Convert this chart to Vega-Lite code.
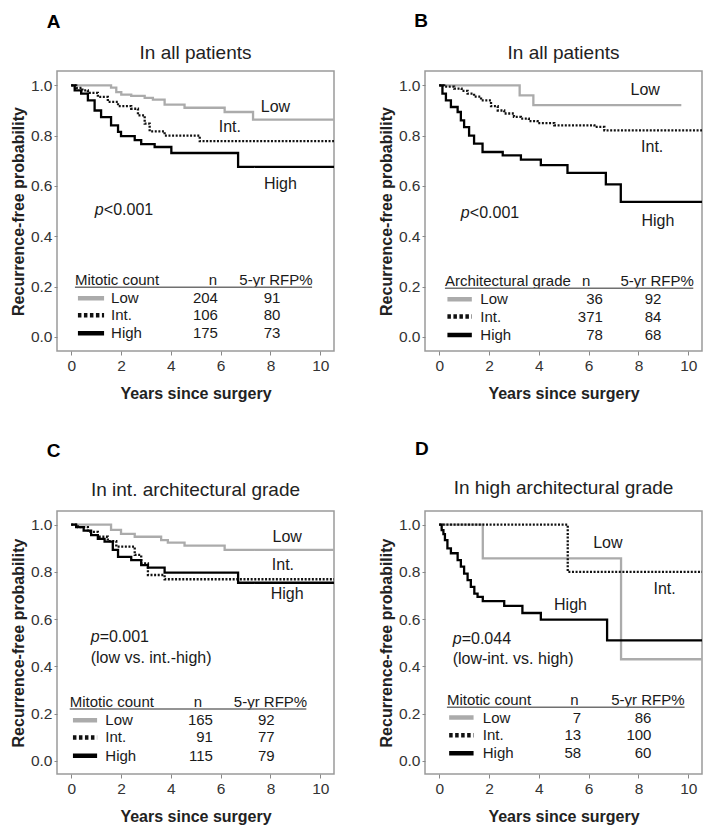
{
  "$schema": "https://vega.github.io/schema/vega-lite/v6.json",
  "background": "white",
  "padding": {"left": 9, "top": 10, "right": 5, "bottom": 5},
  "config": {
    "font": "Liberation Sans",
    "view": {"stroke": "#9a9a9a", "strokeWidth": 1.5},
    "axis": {"domain": false, "grid": false, "tickColor": "#888888", "labelFontSize": 15.5, "labelColor": "#333333", "titleFontSize": 16, "titleFontWeight": "bold", "titleColor": "#222222"},
    "axisX": {"tickSize": 4, "labelPadding": 3, "titlePadding": 12},
    "axisY": {"tickSize": 3, "labelPadding": 2, "titlePadding": 4},
    "text": {"fontSize": 15, "color": "#1a1a1a"}
  },
  "datasets": {
    "km": [
      {"panel":"A","group":"Low","t":0,"s":1},{"panel":"A","group":"Low","t":1.6,"s":0.991},{"panel":"A","group":"Low","t":1.81,"s":0.973},{"panel":"A","group":"Low","t":2.01,"s":0.963},{"panel":"A","group":"Low","t":2.41,"s":0.958},{"panel":"A","group":"Low","t":2.95,"s":0.95},{"panel":"A","group":"Low","t":3.28,"s":0.943},{"panel":"A","group":"Low","t":3.75,"s":0.923},{"panel":"A","group":"Low","t":4.55,"s":0.911},{"panel":"A","group":"Low","t":6.16,"s":0.894},{"panel":"A","group":"Low","t":7.3,"s":0.864},{"panel":"A","group":"Low","t":10.55,"s":0.864},
      {"panel":"A","group":"Int.","t":0,"s":1},{"panel":"A","group":"Int.","t":0.2,"s":0.99},{"panel":"A","group":"Int.","t":0.45,"s":0.98},{"panel":"A","group":"Int.","t":0.67,"s":0.97},{"panel":"A","group":"Int.","t":1.07,"s":0.954},{"panel":"A","group":"Int.","t":1.47,"s":0.934},{"panel":"A","group":"Int.","t":1.88,"s":0.917},{"panel":"A","group":"Int.","t":2.41,"s":0.907},{"panel":"A","group":"Int.","t":2.68,"s":0.881},{"panel":"A","group":"Int.","t":2.95,"s":0.848},{"panel":"A","group":"Int.","t":3.15,"s":0.817},{"panel":"A","group":"Int.","t":3.75,"s":0.8},{"panel":"A","group":"Int.","t":5.16,"s":0.778},{"panel":"A","group":"Int.","t":10.55,"s":0.778},
      {"panel":"A","group":"High","t":0,"s":1},{"panel":"A","group":"High","t":0.14,"s":0.98},{"panel":"A","group":"High","t":0.4,"s":0.967},{"panel":"A","group":"High","t":0.67,"s":0.94},{"panel":"A","group":"High","t":0.94,"s":0.9},{"panel":"A","group":"High","t":1.2,"s":0.874},{"panel":"A","group":"High","t":1.6,"s":0.841},{"panel":"A","group":"High","t":1.88,"s":0.815},{"panel":"A","group":"High","t":2.0,"s":0.798},{"panel":"A","group":"High","t":2.55,"s":0.782},{"panel":"A","group":"High","t":2.81,"s":0.766},{"panel":"A","group":"High","t":3.35,"s":0.755},{"panel":"A","group":"High","t":4.02,"s":0.731},{"panel":"A","group":"High","t":6.7,"s":0.676},{"panel":"A","group":"High","t":10.55,"s":0.676},
      {"panel":"B","group":"Low","t":0,"s":1},{"panel":"B","group":"Low","t":3.23,"s":0.96},{"panel":"B","group":"Low","t":3.78,"s":0.921},{"panel":"B","group":"Low","t":9.72,"s":0.921},
      {"panel":"B","group":"Int.","t":0,"s":1},{"panel":"B","group":"Int.","t":0.2,"s":0.995},{"panel":"B","group":"Int.","t":0.6,"s":0.987},{"panel":"B","group":"Int.","t":0.9,"s":0.978},{"panel":"B","group":"Int.","t":1.14,"s":0.967},{"panel":"B","group":"Int.","t":1.4,"s":0.955},{"panel":"B","group":"Int.","t":1.68,"s":0.94},{"panel":"B","group":"Int.","t":2.08,"s":0.917},{"panel":"B","group":"Int.","t":2.35,"s":0.9},{"panel":"B","group":"Int.","t":2.61,"s":0.888},{"panel":"B","group":"Int.","t":3.0,"s":0.875},{"panel":"B","group":"Int.","t":3.28,"s":0.868},{"panel":"B","group":"Int.","t":3.6,"s":0.858},{"panel":"B","group":"Int.","t":3.95,"s":0.85},{"panel":"B","group":"Int.","t":4.62,"s":0.841},{"panel":"B","group":"Int.","t":6.23,"s":0.835},{"panel":"B","group":"Int.","t":6.63,"s":0.821},{"panel":"B","group":"Int.","t":10.55,"s":0.821},
      {"panel":"B","group":"High","t":0,"s":1},{"panel":"B","group":"High","t":0.13,"s":0.967},{"panel":"B","group":"High","t":0.27,"s":0.94},{"panel":"B","group":"High","t":0.47,"s":0.914},{"panel":"B","group":"High","t":0.74,"s":0.894},{"panel":"B","group":"High","t":0.87,"s":0.861},{"panel":"B","group":"High","t":1.0,"s":0.834},{"panel":"B","group":"High","t":1.2,"s":0.8},{"panel":"B","group":"High","t":1.4,"s":0.768},{"panel":"B","group":"High","t":1.74,"s":0.735},{"panel":"B","group":"High","t":2.55,"s":0.722},{"panel":"B","group":"High","t":3.28,"s":0.705},{"panel":"B","group":"High","t":4.08,"s":0.683},{"panel":"B","group":"High","t":5.15,"s":0.652},{"panel":"B","group":"High","t":6.69,"s":0.606},{"panel":"B","group":"High","t":7.29,"s":0.537},{"panel":"B","group":"High","t":10.55,"s":0.537},
      {"panel":"C","group":"Low","t":0,"s":1},{"panel":"C","group":"Low","t":1.6,"s":0.978},{"panel":"C","group":"Low","t":2.0,"s":0.961},{"panel":"C","group":"Low","t":2.55,"s":0.949},{"panel":"C","group":"Low","t":3.61,"s":0.935},{"panel":"C","group":"Low","t":3.88,"s":0.924},{"panel":"C","group":"Low","t":4.55,"s":0.911},{"panel":"C","group":"Low","t":6.16,"s":0.893},{"panel":"C","group":"Low","t":10.55,"s":0.893},
      {"panel":"C","group":"Int.","t":0,"s":1},{"panel":"C","group":"Int.","t":0.27,"s":0.99},{"panel":"C","group":"Int.","t":0.67,"s":0.97},{"panel":"C","group":"Int.","t":1.07,"s":0.949},{"panel":"C","group":"Int.","t":1.47,"s":0.93},{"panel":"C","group":"Int.","t":1.81,"s":0.907},{"panel":"C","group":"Int.","t":2.55,"s":0.872},{"panel":"C","group":"Int.","t":2.81,"s":0.836},{"panel":"C","group":"Int.","t":3.08,"s":0.787},{"panel":"C","group":"Int.","t":3.75,"s":0.769},{"panel":"C","group":"Int.","t":10.55,"s":0.769},
      {"panel":"C","group":"High","t":0,"s":1},{"panel":"C","group":"High","t":0.2,"s":0.99},{"panel":"C","group":"High","t":0.5,"s":0.975},{"panel":"C","group":"High","t":0.8,"s":0.956},{"panel":"C","group":"High","t":1.07,"s":0.94},{"panel":"C","group":"High","t":1.34,"s":0.928},{"panel":"C","group":"High","t":1.67,"s":0.893},{"panel":"C","group":"High","t":1.88,"s":0.864},{"panel":"C","group":"High","t":2.41,"s":0.85},{"panel":"C","group":"High","t":2.81,"s":0.829},{"panel":"C","group":"High","t":3.08,"s":0.818},{"panel":"C","group":"High","t":3.75,"s":0.797},{"panel":"C","group":"High","t":6.7,"s":0.754},{"panel":"C","group":"High","t":10.55,"s":0.754},
      {"panel":"D","group":"Low","t":0,"s":1},{"panel":"D","group":"Low","t":1.75,"s":0.857},{"panel":"D","group":"Low","t":7.3,"s":0.43},{"panel":"D","group":"Low","t":10.55,"s":0.43},
      {"panel":"D","group":"Int.","t":0,"s":1},{"panel":"D","group":"Int.","t":5.16,"s":0.8},{"panel":"D","group":"Int.","t":10.55,"s":0.8},
      {"panel":"D","group":"High","t":0,"s":1},{"panel":"D","group":"High","t":0.1,"s":0.977},{"panel":"D","group":"High","t":0.17,"s":0.96},{"panel":"D","group":"High","t":0.23,"s":0.935},{"panel":"D","group":"High","t":0.33,"s":0.9},{"panel":"D","group":"High","t":0.47,"s":0.879},{"panel":"D","group":"High","t":0.74,"s":0.85},{"panel":"D","group":"High","t":0.87,"s":0.822},{"panel":"D","group":"High","t":1.0,"s":0.793},{"panel":"D","group":"High","t":1.14,"s":0.765},{"panel":"D","group":"High","t":1.27,"s":0.737},{"panel":"D","group":"High","t":1.41,"s":0.708},{"panel":"D","group":"High","t":1.54,"s":0.694},{"panel":"D","group":"High","t":1.75,"s":0.676},{"panel":"D","group":"High","t":2.61,"s":0.656},{"panel":"D","group":"High","t":3.34,"s":0.626},{"panel":"D","group":"High","t":4.08,"s":0.598},{"panel":"D","group":"High","t":6.74,"s":0.51},{"panel":"D","group":"High","t":10.55,"s":0.51}
    ],
    "labels": [
      {"panel":"A","group":"Low","t":8.2,"s":0.913},{"panel":"A","group":"Int.","t":6.37,"s":0.833},{"panel":"A","group":"High","t":8.4,"s":0.607},
      {"panel":"B","group":"Low","t":8.27,"s":0.983},{"panel":"B","group":"Int.","t":8.55,"s":0.755},{"panel":"B","group":"High","t":8.78,"s":0.461},
      {"panel":"C","group":"Low","t":8.67,"s":0.947},{"panel":"C","group":"Int.","t":8.5,"s":0.829},{"panel":"C","group":"High","t":8.67,"s":0.706},
      {"panel":"D","group":"Low","t":6.77,"s":0.924},{"panel":"D","group":"Int.","t":9.05,"s":0.727},{"panel":"D","group":"High","t":5.27,"s":0.661}
    ],
    "ptext": [
      {"panel":"A","line":1,"t":0.95,"s":0.504,"text":"<0.001"},
      {"panel":"B","line":1,"t":0.87,"s":0.493,"text":"<0.001"},
      {"panel":"C","line":1,"t":0.78,"s":0.526,"text":"=0.001"},
      {"panel":"C","line":2,"t":0.78,"s":0.437,"text":"(low vs. int.-high)"},
      {"panel":"D","line":1,"t":0.54,"s":0.515,"text":"=0.044"},
      {"panel":"D","line":2,"t":0.54,"s":0.43,"text":"(low-int. vs. high)"}
    ],
    "legend": [
      {"panel":"A","group":"Low","n":204,"rfp":91,"s":0.154},{"panel":"A","group":"Int.","n":106,"rfp":80,"s":0.086},{"panel":"A","group":"High","n":175,"rfp":73,"s":0.015},
      {"panel":"B","group":"Low","n":36,"rfp":92,"s":0.15},{"panel":"B","group":"Int.","n":371,"rfp":84,"s":0.081},{"panel":"B","group":"High","n":78,"rfp":68,"s":0.008},
      {"panel":"C","group":"Low","n":165,"rfp":92,"s":0.172},{"panel":"C","group":"Int.","n":91,"rfp":77,"s":0.099},{"panel":"C","group":"High","n":115,"rfp":79,"s":0.021},
      {"panel":"D","group":"Low","n":7,"rfp":86,"s":0.183},{"panel":"D","group":"Int.","n":13,"rfp":100,"s":0.108},{"panel":"D","group":"High","n":58,"rfp":60,"s":0.032}
    ]
  },
  "columns": 2,
  "bounds": "flush",
  "spacing": {"row": 160, "column": 91},
  "concat": [
    {
      "width": 277, "height": 280,
      "resolve": {"scale": {"strokeDash": "independent"}},
      "layer": [
        {"data": {"name": "km"}, "transform": [{"filter": "datum.panel === 'A'"}], "mark": {"type": "line", "interpolate": "step-after", "strokeWidth": 2.3}, "encoding": {
          "x": {"field": "t", "type": "quantitative", "scale": {"domain": [-0.57, 10.55], "nice": false, "zero": false}, "axis": {"title": "Years since surgery", "values": [0, 2, 4, 6, 8, 10]}},
          "y": {"field": "s", "type": "quantitative", "scale": {"domain": [-0.056, 1.057], "nice": false, "zero": false}, "axis": {"title": "Recurrence-free probability", "values": [0, 0.2, 0.4, 0.6, 0.8, 1], "format": ".1f"}},
          "color": {"field": "group", "type": "nominal", "scale": {"domain": ["Low", "Int.", "High"], "range": ["#ababab", "#111111", "#000000"]}, "legend": null}, "strokeDash": {"field": "group", "type": "nominal", "scale": {"domain": ["Low", "Int.", "High"], "range": [[1, 0], [2, 1.6], [1, 0]]}, "legend": null}}},
        {"data": {"name": "labels"}, "transform": [{"filter": "datum.panel === 'A'"}], "mark": {"type": "text", "fontSize": 16, "align": "center", "baseline": "middle"}, "encoding": {"x": {"field": "t", "type": "quantitative"}, "y": {"field": "s", "type": "quantitative"}, "text": {"field": "group", "type": "nominal"}}},
        {"data": {"values": [{}]}, "mark": {"type": "text", "text": "A", "fontSize": 19, "fontWeight": "bold", "align": "left", "baseline": "middle", "color": "#000000"}, "encoding": {"x": {"datum": -0.98, "type": "quantitative"}, "y": {"datum": 1.252, "type": "quantitative"}}},
        {"data": {"values": [{}]}, "mark": {"type": "text", "text": "In all patients", "fontSize": 19, "align": "center", "baseline": "middle", "color": "#222222"}, "encoding": {"x": {"datum": 4.99, "type": "quantitative"}, "y": {"datum": 1.127, "type": "quantitative"}}},
        {"data": {"name": "ptext"}, "transform": [{"filter": "datum.panel === 'A' && datum.line === 1"}], "mark": {"type": "text", "text": "p", "fontSize": 16, "fontStyle": "italic", "align": "left", "baseline": "middle"}, "encoding": {"x": {"field": "t", "type": "quantitative"}, "y": {"field": "s", "type": "quantitative"}}},
        {"data": {"name": "ptext"}, "transform": [{"filter": "datum.panel === 'A' && datum.line === 1"}], "mark": {"type": "text", "fontSize": 16, "align": "left", "baseline": "middle", "dx": 9}, "encoding": {"x": {"field": "t", "type": "quantitative"}, "y": {"field": "s", "type": "quantitative"}, "text": {"field": "text", "type": "nominal"}}},
        {"data": {"values": [{}]}, "mark": {"type": "text", "text": "Mitotic count", "align": "left", "baseline": "middle"}, "encoding": {"x": {"datum": 0.15, "type": "quantitative"}, "y": {"datum": 0.226, "type": "quantitative"}}},
        {"data": {"values": [{}]}, "mark": {"type": "text", "text": "n", "align": "center", "baseline": "middle"}, "encoding": {"x": {"datum": 5.69, "type": "quantitative"}, "y": {"datum": 0.226, "type": "quantitative"}}},
        {"data": {"values": [{}]}, "mark": {"type": "text", "text": "5-yr RFP%", "align": "center", "baseline": "middle"}, "encoding": {"x": {"datum": 8.22, "type": "quantitative"}, "y": {"datum": 0.226, "type": "quantitative"}}},
        {"data": {"values": [{}]}, "mark": {"type": "rule", "color": "#707070", "strokeWidth": 1.5}, "encoding": {"x": {"datum": 0.15, "type": "quantitative"}, "x2": {"datum": 9.67}, "y": {"datum": 0.197, "type": "quantitative"}}},
        {"data": {"name": "legend"}, "transform": [{"filter": "datum.panel === 'A'"}], "mark": {"type": "rule", "strokeWidth": 4.5}, "encoding": {"x": {"datum": 0.27, "type": "quantitative"}, "x2": {"datum": 1.32}, "y": {"field": "s", "type": "quantitative"}, "color": {"field": "group", "type": "nominal", "legend": null}, "strokeDash": {"field": "group", "type": "nominal", "scale": {"domain": ["Low", "Int.", "High"], "range": [[1, 0], [3.5, 2.5], [1, 0]]}, "legend": null}}},
        {"data": {"name": "legend"}, "transform": [{"filter": "datum.panel === 'A'"}], "mark": {"type": "text", "align": "left", "baseline": "middle"}, "encoding": {"x": {"datum": 1.6, "type": "quantitative"}, "y": {"field": "s", "type": "quantitative"}, "text": {"field": "group", "type": "nominal"}}},
        {"data": {"name": "legend"}, "transform": [{"filter": "datum.panel === 'A'"}], "mark": {"type": "text", "align": "right", "baseline": "middle"}, "encoding": {"x": {"datum": 5.89, "type": "quantitative"}, "y": {"field": "s", "type": "quantitative"}, "text": {"field": "n", "type": "quantitative", "format": "d"}}},
        {"data": {"name": "legend"}, "transform": [{"filter": "datum.panel === 'A'"}], "mark": {"type": "text", "align": "right", "baseline": "middle"}, "encoding": {"x": {"datum": 8.4, "type": "quantitative"}, "y": {"field": "s", "type": "quantitative"}, "text": {"field": "rfp", "type": "quantitative", "format": "d"}}}
      ]
    },
    {
      "width": 277, "height": 280,
      "resolve": {"scale": {"strokeDash": "independent"}},
      "layer": [
        {"data": {"name": "km"}, "transform": [{"filter": "datum.panel === 'B'"}], "mark": {"type": "line", "interpolate": "step-after", "strokeWidth": 2.3}, "encoding": {
          "x": {"field": "t", "type": "quantitative", "scale": {"domain": [-0.57, 10.55], "nice": false, "zero": false}, "axis": {"title": "Years since surgery", "values": [0, 2, 4, 6, 8, 10]}},
          "y": {"field": "s", "type": "quantitative", "scale": {"domain": [-0.056, 1.057], "nice": false, "zero": false}, "axis": {"title": "Recurrence-free probability", "values": [0, 0.2, 0.4, 0.6, 0.8, 1], "format": ".1f"}},
          "color": {"field": "group", "type": "nominal", "scale": {"domain": ["Low", "Int.", "High"], "range": ["#ababab", "#111111", "#000000"]}, "legend": null}, "strokeDash": {"field": "group", "type": "nominal", "scale": {"domain": ["Low", "Int.", "High"], "range": [[1, 0], [2, 1.6], [1, 0]]}, "legend": null}}},
        {"data": {"name": "labels"}, "transform": [{"filter": "datum.panel === 'B'"}], "mark": {"type": "text", "fontSize": 16, "align": "center", "baseline": "middle"}, "encoding": {"x": {"field": "t", "type": "quantitative"}, "y": {"field": "s", "type": "quantitative"}, "text": {"field": "group", "type": "nominal"}}},
        {"data": {"values": [{}]}, "mark": {"type": "text", "text": "B", "fontSize": 19, "fontWeight": "bold", "align": "left", "baseline": "middle", "color": "#000000"}, "encoding": {"x": {"datum": -1.0, "type": "quantitative"}, "y": {"datum": 1.257, "type": "quantitative"}}},
        {"data": {"values": [{}]}, "mark": {"type": "text", "text": "In all patients", "fontSize": 19, "align": "center", "baseline": "middle", "color": "#222222"}, "encoding": {"x": {"datum": 4.99, "type": "quantitative"}, "y": {"datum": 1.127, "type": "quantitative"}}},
        {"data": {"name": "ptext"}, "transform": [{"filter": "datum.panel === 'B' && datum.line === 1"}], "mark": {"type": "text", "text": "p", "fontSize": 16, "fontStyle": "italic", "align": "left", "baseline": "middle"}, "encoding": {"x": {"field": "t", "type": "quantitative"}, "y": {"field": "s", "type": "quantitative"}}},
        {"data": {"name": "ptext"}, "transform": [{"filter": "datum.panel === 'B' && datum.line === 1"}], "mark": {"type": "text", "fontSize": 16, "align": "left", "baseline": "middle", "dx": 9}, "encoding": {"x": {"field": "t", "type": "quantitative"}, "y": {"field": "s", "type": "quantitative"}, "text": {"field": "text", "type": "nominal"}}},
        {"data": {"values": [{}]}, "mark": {"type": "text", "text": "Architectural grade", "align": "left", "baseline": "middle"}, "encoding": {"x": {"datum": 0.23, "type": "quantitative"}, "y": {"datum": 0.222, "type": "quantitative"}}},
        {"data": {"values": [{}]}, "mark": {"type": "text", "text": "n", "align": "center", "baseline": "middle"}, "encoding": {"x": {"datum": 5.9, "type": "quantitative"}, "y": {"datum": 0.222, "type": "quantitative"}}},
        {"data": {"values": [{}]}, "mark": {"type": "text", "text": "5-yr RFP%", "align": "center", "baseline": "middle"}, "encoding": {"x": {"datum": 8.75, "type": "quantitative"}, "y": {"datum": 0.222, "type": "quantitative"}}},
        {"data": {"values": [{}]}, "mark": {"type": "rule", "color": "#707070", "strokeWidth": 1.5}, "encoding": {"x": {"datum": 0.23, "type": "quantitative"}, "x2": {"datum": 10.2}, "y": {"datum": 0.193, "type": "quantitative"}}},
        {"data": {"name": "legend"}, "transform": [{"filter": "datum.panel === 'B'"}], "mark": {"type": "rule", "strokeWidth": 4.5}, "encoding": {"x": {"datum": 0.33, "type": "quantitative"}, "x2": {"datum": 1.31}, "y": {"field": "s", "type": "quantitative"}, "color": {"field": "group", "type": "nominal", "legend": null}, "strokeDash": {"field": "group", "type": "nominal", "scale": {"domain": ["Low", "Int.", "High"], "range": [[1, 0], [3.5, 2.5], [1, 0]]}, "legend": null}}},
        {"data": {"name": "legend"}, "transform": [{"filter": "datum.panel === 'B'"}], "mark": {"type": "text", "align": "left", "baseline": "middle"}, "encoding": {"x": {"datum": 1.65, "type": "quantitative"}, "y": {"field": "s", "type": "quantitative"}, "text": {"field": "group", "type": "nominal"}}},
        {"data": {"name": "legend"}, "transform": [{"filter": "datum.panel === 'B'"}], "mark": {"type": "text", "align": "right", "baseline": "middle"}, "encoding": {"x": {"datum": 6.57, "type": "quantitative"}, "y": {"field": "s", "type": "quantitative"}, "text": {"field": "n", "type": "quantitative", "format": "d"}}},
        {"data": {"name": "legend"}, "transform": [{"filter": "datum.panel === 'B'"}], "mark": {"type": "text", "align": "right", "baseline": "middle"}, "encoding": {"x": {"datum": 8.92, "type": "quantitative"}, "y": {"field": "s", "type": "quantitative"}, "text": {"field": "rfp", "type": "quantitative", "format": "d"}}}
      ]
    },
    {
      "width": 277, "height": 263,
      "resolve": {"scale": {"strokeDash": "independent"}},
      "layer": [
        {"data": {"name": "km"}, "transform": [{"filter": "datum.panel === 'C'"}], "mark": {"type": "line", "interpolate": "step-after", "strokeWidth": 2.3}, "encoding": {
          "x": {"field": "t", "type": "quantitative", "scale": {"domain": [-0.57, 10.55], "nice": false, "zero": false}, "axis": {"title": "Years since surgery", "values": [0, 2, 4, 6, 8, 10]}},
          "y": {"field": "s", "type": "quantitative", "scale": {"domain": [-0.056, 1.058], "nice": false, "zero": false}, "axis": {"title": "Recurrence-free probability", "values": [0, 0.2, 0.4, 0.6, 0.8, 1], "format": ".1f"}},
          "color": {"field": "group", "type": "nominal", "scale": {"domain": ["Low", "Int.", "High"], "range": ["#ababab", "#111111", "#000000"]}, "legend": null}, "strokeDash": {"field": "group", "type": "nominal", "scale": {"domain": ["Low", "Int.", "High"], "range": [[1, 0], [2, 1.6], [1, 0]]}, "legend": null}}},
        {"data": {"name": "labels"}, "transform": [{"filter": "datum.panel === 'C'"}], "mark": {"type": "text", "fontSize": 16, "align": "center", "baseline": "middle"}, "encoding": {"x": {"field": "t", "type": "quantitative"}, "y": {"field": "s", "type": "quantitative"}, "text": {"field": "group", "type": "nominal"}}},
        {"data": {"values": [{}]}, "mark": {"type": "text", "text": "C", "fontSize": 19, "fontWeight": "bold", "align": "left", "baseline": "middle", "color": "#000000"}, "encoding": {"x": {"datum": -0.98, "type": "quantitative"}, "y": {"datum": 1.312, "type": "quantitative"}}},
        {"data": {"values": [{}]}, "mark": {"type": "text", "text": "In int. architectural grade", "fontSize": 19, "align": "center", "baseline": "middle", "color": "#222222"}, "encoding": {"x": {"datum": 4.99, "type": "quantitative"}, "y": {"datum": 1.147, "type": "quantitative"}}},
        {"data": {"name": "ptext"}, "transform": [{"filter": "datum.panel === 'C' && datum.line === 1"}], "mark": {"type": "text", "text": "p", "fontSize": 16, "fontStyle": "italic", "align": "left", "baseline": "middle"}, "encoding": {"x": {"field": "t", "type": "quantitative"}, "y": {"field": "s", "type": "quantitative"}}},
        {"data": {"name": "ptext"}, "transform": [{"filter": "datum.panel === 'C' && datum.line === 1"}], "mark": {"type": "text", "fontSize": 16, "align": "left", "baseline": "middle", "dx": 9}, "encoding": {"x": {"field": "t", "type": "quantitative"}, "y": {"field": "s", "type": "quantitative"}, "text": {"field": "text", "type": "nominal"}}},
        {"data": {"name": "ptext"}, "transform": [{"filter": "datum.panel === 'C' && datum.line === 2"}], "mark": {"type": "text", "fontSize": 16, "align": "left", "baseline": "middle"}, "encoding": {"x": {"field": "t", "type": "quantitative"}, "y": {"field": "s", "type": "quantitative"}, "text": {"field": "text", "type": "nominal"}}},
        {"data": {"values": [{}]}, "mark": {"type": "text", "text": "Mitotic count", "align": "left", "baseline": "middle"}, "encoding": {"x": {"datum": -0.06, "type": "quantitative"}, "y": {"datum": 0.25, "type": "quantitative"}}},
        {"data": {"values": [{}]}, "mark": {"type": "text", "text": "n", "align": "center", "baseline": "middle"}, "encoding": {"x": {"datum": 5.09, "type": "quantitative"}, "y": {"datum": 0.25, "type": "quantitative"}}},
        {"data": {"values": [{}]}, "mark": {"type": "text", "text": "5-yr RFP%", "align": "center", "baseline": "middle"}, "encoding": {"x": {"datum": 8.0, "type": "quantitative"}, "y": {"datum": 0.25, "type": "quantitative"}}},
        {"data": {"values": [{}]}, "mark": {"type": "rule", "color": "#707070", "strokeWidth": 1.5}, "encoding": {"x": {"datum": -0.06, "type": "quantitative"}, "x2": {"datum": 9.44}, "y": {"datum": 0.219, "type": "quantitative"}}},
        {"data": {"name": "legend"}, "transform": [{"filter": "datum.panel === 'C'"}], "mark": {"type": "rule", "strokeWidth": 4.5}, "encoding": {"x": {"datum": 0.07, "type": "quantitative"}, "x2": {"datum": 1.04}, "y": {"field": "s", "type": "quantitative"}, "color": {"field": "group", "type": "nominal", "legend": null}, "strokeDash": {"field": "group", "type": "nominal", "scale": {"domain": ["Low", "Int.", "High"], "range": [[1, 0], [3.5, 2.5], [1, 0]]}, "legend": null}}},
        {"data": {"name": "legend"}, "transform": [{"filter": "datum.panel === 'C'"}], "mark": {"type": "text", "align": "left", "baseline": "middle"}, "encoding": {"x": {"datum": 1.37, "type": "quantitative"}, "y": {"field": "s", "type": "quantitative"}, "text": {"field": "group", "type": "nominal"}}},
        {"data": {"name": "legend"}, "transform": [{"filter": "datum.panel === 'C'"}], "mark": {"type": "text", "align": "right", "baseline": "middle"}, "encoding": {"x": {"datum": 5.69, "type": "quantitative"}, "y": {"field": "s", "type": "quantitative"}, "text": {"field": "n", "type": "quantitative", "format": "d"}}},
        {"data": {"name": "legend"}, "transform": [{"filter": "datum.panel === 'C'"}], "mark": {"type": "text", "align": "right", "baseline": "middle"}, "encoding": {"x": {"datum": 8.17, "type": "quantitative"}, "y": {"field": "s", "type": "quantitative"}, "text": {"field": "rfp", "type": "quantitative", "format": "d"}}}
      ]
    },
    {
      "width": 277, "height": 263,
      "resolve": {"scale": {"strokeDash": "independent"}},
      "layer": [
        {"data": {"name": "km"}, "transform": [{"filter": "datum.panel === 'D'"}], "mark": {"type": "line", "interpolate": "step-after", "strokeWidth": 2.3}, "encoding": {
          "x": {"field": "t", "type": "quantitative", "scale": {"domain": [-0.57, 10.55], "nice": false, "zero": false}, "axis": {"title": "Years since surgery", "values": [0, 2, 4, 6, 8, 10]}},
          "y": {"field": "s", "type": "quantitative", "scale": {"domain": [-0.056, 1.058], "nice": false, "zero": false}, "axis": {"title": "Recurrence-free probability", "values": [0, 0.2, 0.4, 0.6, 0.8, 1], "format": ".1f"}},
          "color": {"field": "group", "type": "nominal", "scale": {"domain": ["Low", "Int.", "High"], "range": ["#ababab", "#111111", "#000000"]}, "legend": null}, "strokeDash": {"field": "group", "type": "nominal", "scale": {"domain": ["Low", "Int.", "High"], "range": [[1, 0], [2, 1.6], [1, 0]]}, "legend": null}}},
        {"data": {"name": "labels"}, "transform": [{"filter": "datum.panel === 'D'"}], "mark": {"type": "text", "fontSize": 16, "align": "center", "baseline": "middle"}, "encoding": {"x": {"field": "t", "type": "quantitative"}, "y": {"field": "s", "type": "quantitative"}, "text": {"field": "group", "type": "nominal"}}},
        {"data": {"values": [{}]}, "mark": {"type": "text", "text": "D", "fontSize": 19, "fontWeight": "bold", "align": "left", "baseline": "middle", "color": "#000000"}, "encoding": {"x": {"datum": -0.97, "type": "quantitative"}, "y": {"datum": 1.32, "type": "quantitative"}}},
        {"data": {"values": [{}]}, "mark": {"type": "text", "text": "In high architectural grade", "fontSize": 19, "align": "center", "baseline": "middle", "color": "#222222"}, "encoding": {"x": {"datum": 4.99, "type": "quantitative"}, "y": {"datum": 1.156, "type": "quantitative"}}},
        {"data": {"name": "ptext"}, "transform": [{"filter": "datum.panel === 'D' && datum.line === 1"}], "mark": {"type": "text", "text": "p", "fontSize": 16, "fontStyle": "italic", "align": "left", "baseline": "middle"}, "encoding": {"x": {"field": "t", "type": "quantitative"}, "y": {"field": "s", "type": "quantitative"}}},
        {"data": {"name": "ptext"}, "transform": [{"filter": "datum.panel === 'D' && datum.line === 1"}], "mark": {"type": "text", "fontSize": 16, "align": "left", "baseline": "middle", "dx": 9}, "encoding": {"x": {"field": "t", "type": "quantitative"}, "y": {"field": "s", "type": "quantitative"}, "text": {"field": "text", "type": "nominal"}}},
        {"data": {"name": "ptext"}, "transform": [{"filter": "datum.panel === 'D' && datum.line === 2"}], "mark": {"type": "text", "fontSize": 16, "align": "left", "baseline": "middle"}, "encoding": {"x": {"field": "t", "type": "quantitative"}, "y": {"field": "s", "type": "quantitative"}, "text": {"field": "text", "type": "nominal"}}},
        {"data": {"values": [{}]}, "mark": {"type": "text", "text": "Mitotic count", "align": "left", "baseline": "middle"}, "encoding": {"x": {"datum": 0.31, "type": "quantitative"}, "y": {"datum": 0.257, "type": "quantitative"}}},
        {"data": {"values": [{}]}, "mark": {"type": "text", "text": "n", "align": "center", "baseline": "middle"}, "encoding": {"x": {"datum": 5.43, "type": "quantitative"}, "y": {"datum": 0.257, "type": "quantitative"}}},
        {"data": {"values": [{}]}, "mark": {"type": "text", "text": "5-yr RFP%", "align": "center", "baseline": "middle"}, "encoding": {"x": {"datum": 8.38, "type": "quantitative"}, "y": {"datum": 0.257, "type": "quantitative"}}},
        {"data": {"values": [{}]}, "mark": {"type": "rule", "color": "#707070", "strokeWidth": 1.5}, "encoding": {"x": {"datum": 0.31, "type": "quantitative"}, "x2": {"datum": 9.85}, "y": {"datum": 0.227, "type": "quantitative"}}},
        {"data": {"name": "legend"}, "transform": [{"filter": "datum.panel === 'D'"}], "mark": {"type": "rule", "strokeWidth": 4.5}, "encoding": {"x": {"datum": 0.4, "type": "quantitative"}, "x2": {"datum": 1.38}, "y": {"field": "s", "type": "quantitative"}, "color": {"field": "group", "type": "nominal", "legend": null}, "strokeDash": {"field": "group", "type": "nominal", "scale": {"domain": ["Low", "Int.", "High"], "range": [[1, 0], [3.5, 2.5], [1, 0]]}, "legend": null}}},
        {"data": {"name": "legend"}, "transform": [{"filter": "datum.panel === 'D'"}], "mark": {"type": "text", "align": "left", "baseline": "middle"}, "encoding": {"x": {"datum": 1.75, "type": "quantitative"}, "y": {"field": "s", "type": "quantitative"}, "text": {"field": "group", "type": "nominal"}}},
        {"data": {"name": "legend"}, "transform": [{"filter": "datum.panel === 'D'"}], "mark": {"type": "text", "align": "right", "baseline": "middle"}, "encoding": {"x": {"datum": 5.7, "type": "quantitative"}, "y": {"field": "s", "type": "quantitative"}, "text": {"field": "n", "type": "quantitative", "format": "d"}}},
        {"data": {"name": "legend"}, "transform": [{"filter": "datum.panel === 'D'"}], "mark": {"type": "text", "align": "right", "baseline": "middle"}, "encoding": {"x": {"datum": 8.52, "type": "quantitative"}, "y": {"field": "s", "type": "quantitative"}, "text": {"field": "rfp", "type": "quantitative", "format": "d"}}}
      ]
    }
  ]
}
